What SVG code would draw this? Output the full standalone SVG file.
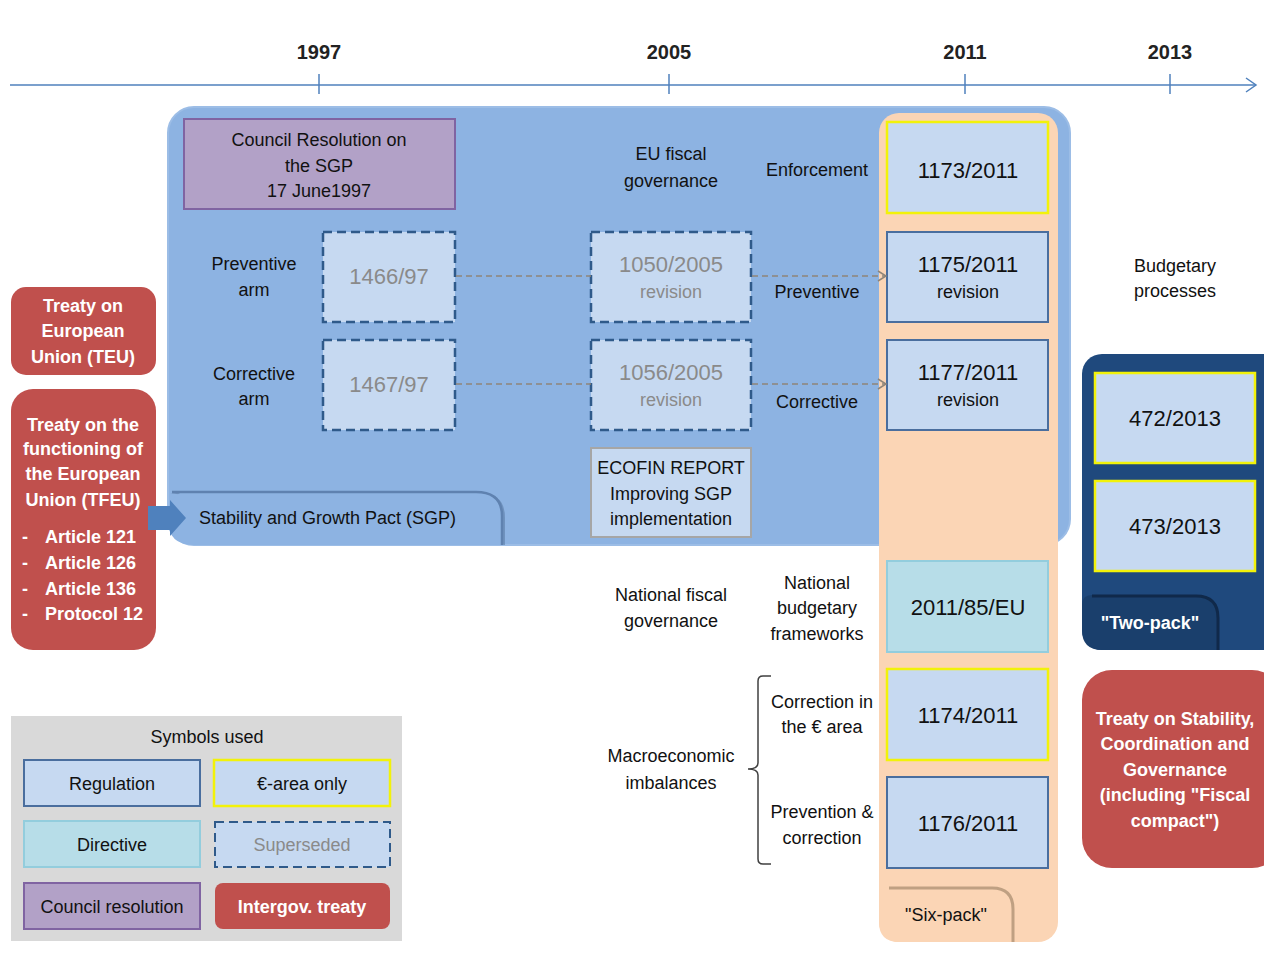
<svg xmlns="http://www.w3.org/2000/svg" width="1264" height="955" viewBox="0 0 1264 955">
<defs>
<style>
text{font-family:"Liberation Sans",Arial,sans-serif;font-size:18px;fill:#111;text-anchor:middle}
.yr{font-size:20px;font-weight:bold;fill:#222}
.num{font-size:22px}
.sup{font-size:22px;fill:#8a8a8a}
.supr{font-size:18px;fill:#8a8a8a}
.w{fill:#fff;font-weight:bold}
.reg{fill:#c6d9f1;stroke:#4a6e9e;stroke-width:2}
.eur{fill:#c6d9f1;stroke:#f2f20a;stroke-width:2.5}
.ss{fill:#c6d9f1;stroke:#2f5a8a;stroke-width:2.5;stroke-dasharray:9,5}
.dir{fill:#b7dde8;stroke:#93cddd;stroke-width:2}
.res{fill:#b2a1c7;stroke:#8064a2;stroke-width:2}
.tr{fill:#c0504d}
.conn{fill:none;stroke:#8f8579;stroke-width:1.5;stroke-dasharray:6,4}
</style>
<marker id="ah" markerWidth="12" markerHeight="12" refX="10" refY="6" orient="auto" markerUnits="userSpaceOnUse">
<path d="M2,1 L10,6 L2,11" fill="none" stroke="#8f8579" stroke-width="1.5"/>
</marker>
<marker id="axh" markerWidth="14" markerHeight="16" refX="12" refY="8" orient="auto" markerUnits="userSpaceOnUse">
<path d="M2,1 L12,8 L2,15" fill="none" stroke="#4f81bd" stroke-width="1.5"/>
</marker>
</defs>
<rect width="1264" height="955" fill="#fff"/>

<g id="axis">
<line x1="10" y1="85" x2="1256" y2="85" stroke="#4f81bd" stroke-width="1.5" marker-end="url(#axh)"/>
<line x1="319" y1="74" x2="319" y2="94" stroke="#4f81bd" stroke-width="1.5"/>
<line x1="669" y1="74" x2="669" y2="94" stroke="#4f81bd" stroke-width="1.5"/>
<line x1="965" y1="74" x2="965" y2="94" stroke="#4f81bd" stroke-width="1.5"/>
<line x1="1170" y1="74" x2="1170" y2="94" stroke="#4f81bd" stroke-width="1.5"/>
<text class="yr" x="319" y="59">1997</text>
<text class="yr" x="669" y="59">2005</text>
<text class="yr" x="965" y="59">2011</text>
<text class="yr" x="1170" y="59">2013</text>
</g>

<g id="sgp">
<rect x="168" y="107" width="902" height="438" rx="26" fill="#8db3e2" stroke="#9cbde6" stroke-width="2"/>
</g>

<g id="sixpack">
<rect x="879" y="113" width="179" height="829" rx="20" fill="#fbd5b5"/>
</g>

<g id="sgp-tab">
<path d="M170,493 L480,493 Q505,493 505,518 L505,545 Z" fill="#6f92be"/>
<path d="M168,520 Q168,491 190,491 L476,491 Q502,491 502,516 L502,545 L194,545 Q168,545 168,520 Z" fill="#8db3e2"/>
<path d="M172,492 L476,492 Q502,492 502,516 L502,545" fill="none" stroke="#5f82b0" stroke-width="2.5"/>
<text x="199" y="524" style="text-anchor:start">Stability and Growth Pact (SGP)</text>
</g>

<g id="sixpack-tab">
<path d="M879,922 L879,897 Q879,887 889,887 L992,887 Q1014,887 1014,909 L1014,942 L899,942 Q879,942 879,922 Z" fill="#fbd5b5"/>
<path d="M889,888 L992,888 Q1013,888 1013,909 L1013,942" fill="none" stroke="#bfa082" stroke-width="3"/>
<text x="946" y="921">"Six-pack"</text>
</g>

<g id="council-resolution">
<rect class="res" x="184" y="119" width="271" height="90"/>
<text x="319" y="146">Council Resolution on</text>
<text x="319" y="172">the SGP</text>
<text x="319" y="197">17 June1997</text>
</g>

<g id="labels">
<text x="671" y="160">EU fiscal</text>
<text x="671" y="187">governance</text>
<text x="817" y="176">Enforcement</text>
<text x="254" y="270">Preventive</text>
<text x="254" y="296">arm</text>
<text x="254" y="380">Corrective</text>
<text x="254" y="405">arm</text>
<text x="817" y="298">Preventive</text>
<text x="817" y="408">Corrective</text>
<text x="1175" y="272">Budgetary</text>
<text x="1175" y="297">processes</text>
<text x="671" y="601">National fiscal</text>
<text x="671" y="627">governance</text>
<text x="817" y="589">National</text>
<text x="817" y="614">budgetary</text>
<text x="817" y="640">frameworks</text>
<text x="671" y="762">Macroeconomic</text>
<text x="671" y="789">imbalances</text>
<text x="822" y="708">Correction in</text>
<text x="822" y="733">the € area</text>
<text x="822" y="818">Prevention &amp;</text>
<text x="822" y="844">correction</text>
</g>

<g id="r1466"><rect class="ss" x="323" y="232" width="132" height="90"/><text class="sup" x="389" y="284">1466/97</text></g>
<g id="r1467"><rect class="ss" x="323" y="340" width="132" height="90"/><text class="sup" x="389" y="392">1467/97</text></g>
<g id="r1050"><rect class="ss" x="591" y="232" width="160" height="90"/><text class="sup" x="671" y="272">1050/2005</text><text class="supr" x="671" y="298">revision</text></g>
<g id="r1056"><rect class="ss" x="591" y="340" width="160" height="90"/><text class="sup" x="671" y="380">1056/2005</text><text class="supr" x="671" y="406">revision</text></g>
<g id="ecofin"><rect x="591" y="448" width="160" height="89" fill="#c6d9f1" stroke="#a6a6a6" stroke-width="2"/>
<text x="671" y="474">ECOFIN REPORT</text><text x="671" y="500">Improving SGP</text><text x="671" y="525">implementation</text></g>

<g id="r1173"><rect class="eur" x="887" y="122" width="161" height="91"/><text class="num" x="968" y="178">1173/2011</text></g>
<g id="r1175"><rect class="reg" x="887" y="232" width="161" height="90"/><text class="num" x="968" y="272">1175/2011</text><text x="968" y="298">revision</text></g>
<g id="r1177"><rect class="reg" x="887" y="340" width="161" height="90"/><text class="num" x="968" y="380">1177/2011</text><text x="968" y="406">revision</text></g>
<g id="d2011"><rect class="dir" x="887" y="561" width="161" height="91"/><text class="num" x="968" y="615">2011/85/EU</text></g>
<g id="r1174"><rect class="eur" x="887" y="669" width="161" height="91"/><text class="num" x="968" y="723">1174/2011</text></g>
<g id="r1176"><rect class="reg" x="887" y="777" width="161" height="91"/><text class="num" x="968" y="831">1176/2011</text></g>

<g id="teu"><rect class="tr" x="11" y="287" width="145" height="88" rx="15"/>
<text class="w" x="83" y="312">Treaty on</text><text class="w" x="83" y="337">European</text><text class="w" x="83" y="363">Union (TEU)</text></g>

<g id="tfeu"><rect class="tr" x="11" y="389" width="145" height="261" rx="22"/>
<text class="w" x="83" y="431">Treaty on the</text><text class="w" x="83" y="455">functioning of</text><text class="w" x="83" y="480">the European</text><text class="w" x="83" y="506">Union (TFEU)</text>
<text class="w" x="22" y="543" style="text-anchor:start">-</text><text class="w" x="45" y="543" style="text-anchor:start">Article 121</text>
<text class="w" x="22" y="569" style="text-anchor:start">-</text><text class="w" x="45" y="569" style="text-anchor:start">Article 126</text>
<text class="w" x="22" y="595" style="text-anchor:start">-</text><text class="w" x="45" y="595" style="text-anchor:start">Article 136</text>
<text class="w" x="22" y="620" style="text-anchor:start">-</text><text class="w" x="45" y="620" style="text-anchor:start">Protocol 12</text></g>

<g id="twopack"><rect x="1082" y="354" width="200" height="296" rx="20" fill="#1f497d"/>
<rect class="eur" x="1095" y="373" width="160" height="90"/><text class="num" x="1175" y="426">472/2013</text>
<rect class="eur" x="1095" y="481" width="160" height="90"/><text class="num" x="1175" y="534">473/2013</text>
<path d="M1082,630 L1082,605 Q1082,595 1092,595 L1196,595 Q1219,595 1219,618 L1219,650 L1102,650 Q1082,650 1082,630 Z" fill="#1a3f6c"/>
<path d="M1092,596 L1196,596 Q1218,596 1218,618 L1218,650" fill="none" stroke="#10294a" stroke-width="3"/>
<text class="w" x="1150" y="629">"Two-pack"</text></g>

<g id="fiscal-compact"><rect class="tr" x="1082" y="670" width="200" height="198" rx="30"/>
<text class="w" x="1175" y="725">Treaty on Stability,</text><text class="w" x="1175" y="750">Coordination and</text><text class="w" x="1175" y="776">Governance</text><text class="w" x="1175" y="801">(including "Fiscal</text><text class="w" x="1175" y="827">compact")</text></g>

<g id="legend"><rect x="11" y="716" width="391" height="225" fill="#d9d9d9"/>
<text x="207" y="743">Symbols used</text>
<rect class="reg" x="24" y="760" width="176" height="46"/><text x="112" y="790">Regulation</text>
<rect class="eur" x="214" y="760" width="176" height="46"/><text x="302" y="790">€-area only</text>
<rect class="dir" x="24" y="821" width="176" height="46"/><text x="112" y="851">Directive</text>
<rect class="ss" x="215" y="822" width="175" height="45" style="stroke-width:2"/><text x="302" y="851" style="fill:#8a8a8a">Superseded</text>
<rect class="res" x="24" y="883" width="176" height="46"/><text x="112" y="913">Council resolution</text>
<rect class="tr" x="215" y="883" width="175" height="46" rx="8"/><text class="w" x="302" y="913">Intergov. treaty</text></g>

<g id="connectors">
<line class="conn" x1="456" y1="276" x2="591" y2="276"/>
<line class="conn" x1="456" y1="384" x2="591" y2="384"/>
<line class="conn" x1="752" y1="276" x2="886" y2="276" marker-end="url(#ah)"/>
<line class="conn" x1="752" y1="384" x2="886" y2="384" marker-end="url(#ah)"/>
<path d="M148,506 L170,506 L170,500 L186,518 L170,536 L170,530 L148,530 Z" fill="#4f81bd"/>
<path d="M771,676 L763,676 Q758,676 758,681 L758,763 Q758,769 748,769 Q758,769 758,775 L758,859 Q758,864 763,864 L771,864" fill="none" stroke="#404040" stroke-width="1.5"/>
</g>
</svg>
